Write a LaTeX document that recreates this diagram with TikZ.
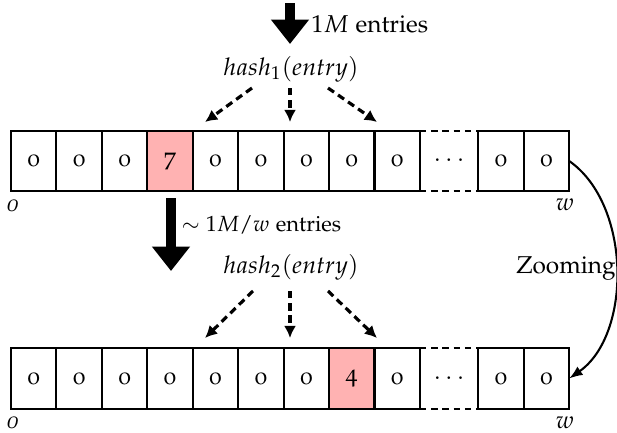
\documentclass[tikz,border=0pt]{standalone}
\usepackage[T1]{fontenc}
\usepackage[osf]{mathpazo}
\usetikzlibrary{arrows.meta}
\begin{document}
\begin{tikzpicture}[x=0.41pt,y=-0.41pt,
  cell/.style={draw, line width=0.85pt, minimum width=18.63pt, minimum height=24.8pt, inner sep=0pt, outer sep=0pt},
  hot/.style={cell, fill=red!30},
  gap/.style={minimum width=23.8pt, minimum height=24.8pt, inner sep=0pt, outer sep=0pt},
  gapline/.style={line width=0.85pt, dash pattern=on 2.6pt off 2pt},
  bigarrow/.style={line width=4.2pt, -{Triangle[length=10pt,width=15pt]}},
  hasharrow/.style={line width=1.3pt, dash pattern=on 3pt off 2pt, -{Latex[length=5pt,width=5pt]}},
  zoomarrow/.style={line width=0.85pt, -{Latex[length=5.5pt,width=4.2pt]}},
  idx/.style={inner sep=0pt},
  lab/.style={inner sep=0pt, anchor=base west},
]
\useasboundingbox (0,0) rectangle (617,433);
% ---------- top row ----------
\foreach \i in {1,2,3,5,6,7,8,9}
  \node[cell] (t\i) at ({11+45.44*(\i-0.5)},161) {0};
\node[hot] (t4) at ({11+45.44*3.5},161) {7};
\node[gap] (tdots) at (449,161) {$\cdots$};
\draw[gapline] (tdots.north west) -- (tdots.north east);
\draw[gapline] (tdots.south west) -- (tdots.south east);
\node[cell] (t10) at (501,161) {0};
\node[cell] (t11) at (546.5,161) {0};
\node[idx] (to) at (13,206) {\textit{0}};
\node[idx] (tw) at (565,205) {$w$};
% ---------- bottom row ----------
\foreach \i in {1,2,3,4,5,6,7,9}
  \node[cell] (b\i) at ({11+45.44*(\i-0.5)},378.5) {0};
\node[hot] (b8) at ({11+45.44*7.5},378.5) {4};
\node[gap] (bdots) at (449,378.5) {$\cdots$};
\draw[gapline] (bdots.north west) -- (bdots.north east);
\draw[gapline] (bdots.south west) -- (bdots.south east);
\node[cell] (b10) at (501,378.5) {0};
\node[cell] (b11) at (546.5,378.5) {0};
\node[idx] (bo) at (13,423) {\textit{0}};
\node[idx] (bw) at (565,423) {$w$};
% ---------- top input ----------
\coordinate (in1) at (290,3);
\coordinate (hit1) at (290,44);
\draw[bigarrow] (in1) -- (hit1);
\node[lab] (lab1) at (311,32) {$1M$ entries};
\node (h1) at (291,69) {$hash_1(entry)$};
\coordinate (h1l) at (252,88); \coordinate (h1lt) at (205,122);
\coordinate (h1m) at (290,88); \coordinate (h1mt) at (290,122);
\coordinate (h1r) at (328,88); \coordinate (h1rt) at (377,122);
\draw[hasharrow] (h1l) -- (h1lt);
\draw[hasharrow] (h1m) -- (h1mt);
\draw[hasharrow] (h1r) -- (h1rt);
% ---------- second level ----------
\coordinate (in2) at (171,198);
\coordinate (hit2) at (171,271);
\draw[bigarrow] (in2) -- (hit2);
\node[lab, font=\fontsize{9}{11}\selectfont] (lab2) at (181,231) {$\sim 1M/w$ entries};
\node (h2) at (291,267) {$hash_2(entry)$};
\coordinate (h2l) at (253,291); \coordinate (h2lt) at (205,338);
\coordinate (h2m) at (290,291); \coordinate (h2mt) at (290,338);
\coordinate (h2r) at (328,291); \coordinate (h2rt) at (377,338);
\draw[hasharrow] (h2l) -- (h2lt);
\draw[hasharrow] (h2m) -- (h2mt);
\draw[hasharrow] (h2r) -- (h2rt);
% ---------- zooming ----------
\node (zoom) at (566,268) {Zooming};
\draw[zoomarrow] (t11.east) to[out=-35,in=35,looseness=0.9] (b11.east);
\end{tikzpicture}
\end{document}
